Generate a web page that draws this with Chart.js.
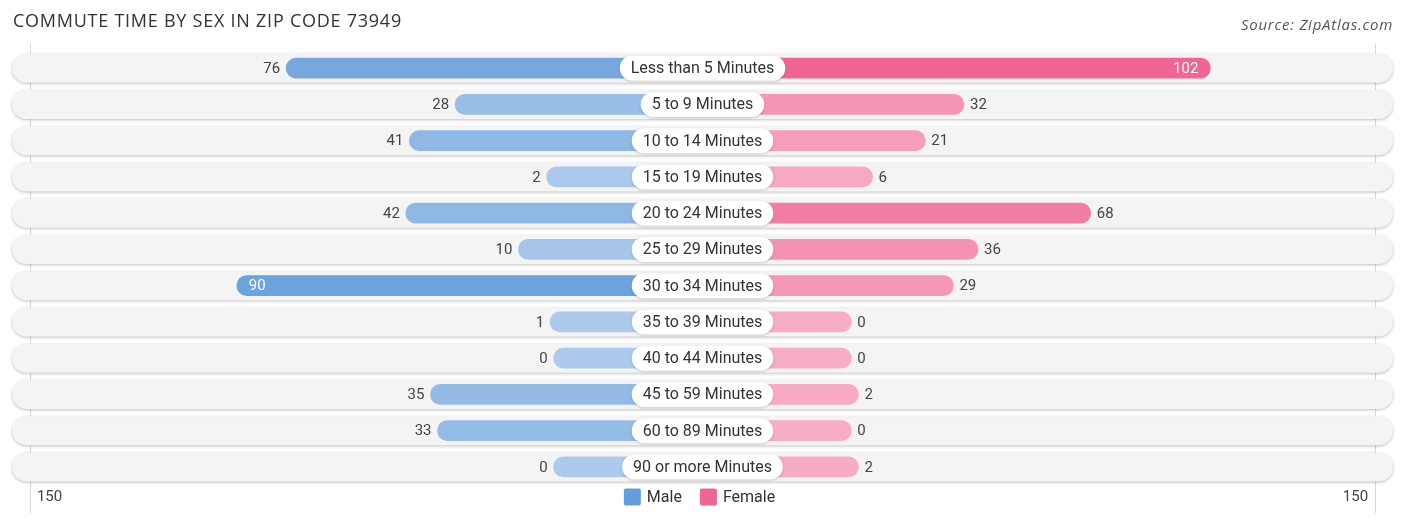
<!DOCTYPE html>
<html>
<head>
<meta charset="utf-8">
<script src="https://cdn.jsdelivr.net/npm/chart.js@4.4.0/dist/chart.umd.min.js"></script>
<style>
  body { margin: 0; background: #fff; }
  .wrap { position: relative; width: 1406px; height: 523px; }
  .title { position: absolute; left: 13px; top: 8px; font: 18px "Open Sans", sans-serif; color: #333; letter-spacing: 0.75px; }
  .source { position: absolute; right: 13px; top: 14px; font: italic 15px "Open Sans", sans-serif; color: #555; letter-spacing: 0.75px; }
  canvas { position: absolute; left: 0; top: 0; }
</style>
</head>
<body>
<div class="wrap">
  <canvas id="chart1" width="1406" height="523"></canvas>
  <div class="title">COMMUTE TIME BY SEX IN ZIP CODE 73949</div>
  <div class="source">Source: ZipAtlas.com</div>
</div>
<script>
var categories = ['Less than 5 Minutes', '5 to 9 Minutes', '10 to 14 Minutes', '15 to 19 Minutes',
    '20 to 24 Minutes', '25 to 29 Minutes', '30 to 34 Minutes', '35 to 39 Minutes',
    '40 to 44 Minutes', '45 to 59 Minutes', '60 to 89 Minutes', '90 or more Minutes'];
var male = [76, 28, 41, 2, 42, 10, 90, 1, 0, 35, 33, 0];
var female = [102, 32, 21, 6, 68, 36, 29, 0, 0, 2, 0, 2];
var axisMax = 150;

// bars start under the centre label, so each one gets a fixed stub plus its scaled value
var stub = 33.2;
var slope = 0.785;
var maxVal = Math.max.apply(null, male.concat(female));

function mix(a, b, t) {
    return 'rgb(' + a.map(function(c, i) { return Math.round(c + (b[i] - c) * t); }).join(',') + ')';
}
var maleLight = [172, 202, 236], maleDark = [100, 157, 219];
var femaleLight = [247, 172, 199], femaleDark = [240, 101, 146];

function barColor(light, dark, values) {
    return function(ctx) {
        if (ctx.type !== 'data') return mix(light, dark, 1);
        return mix(light, dark, values[ctx.dataIndex] / maxVal);
    };
}

var rowPlugin = {
    id: 'rows',
    beforeDatasetsDraw: function(chart) {
        var c = chart.ctx, area = chart.chartArea, y = chart.scales.y, x = chart.scales.x;
        c.save();
        // grid lines at +-150
        c.strokeStyle = '#d8d8d8';
        c.lineWidth = 1;
        [-axisMax, axisMax].forEach(function(v) {
            var px = Math.round(x.getPixelForValue(v)) + 0.5;
            c.beginPath();
            c.moveTo(px, area.top - 6);
            c.lineTo(px, area.bottom + 28);
            c.stroke();
        });
        categories.forEach(function(cat, i) {
            var cy = y.getPixelForValue(i);
            c.save();
            c.shadowColor = 'rgba(0,0,0,0.25)';
            c.shadowBlur = 3;
            c.shadowOffsetY = 1;
            c.fillStyle = '#f4f4f4';
            c.beginPath();
            c.roundRect(area.left, cy - 14.5, area.right - area.left, 29, 14.5);
            c.fill();
            c.restore();
        });
        c.restore();
    },
    afterDatasetsDraw: function(chart) {
        var c = chart.ctx, y = chart.scales.y, x = chart.scales.x, area = chart.chartArea;
        var cx = x.getPixelForValue(0);
        c.save();
        c.textBaseline = 'middle';
        categories.forEach(function(cat, i) {
            var cy = y.getPixelForValue(i);
            // centre label
            c.font = '16px Roboto';
            var w = c.measureText(cat).width + 22;
            c.save();
            c.shadowColor = 'rgba(0,0,0,0.18)';
            c.shadowBlur = 3;
            c.shadowOffsetY = 1;
            c.fillStyle = '#fff';
            c.beginPath();
            c.roundRect(cx - w / 2, cy - 12.5, w, 25, 12.5);
            c.fill();
            c.restore();
            c.fillStyle = '#333';
            c.textAlign = 'center';
            c.fillText(cat, cx, cy + 1);

            // value labels
            c.font = '15px Roboto';
            var m = male[i], f = female[i];
            var mx = x.getPixelForValue(-(stub + slope * m));
            if (m / maxVal > 0.8) {
                c.fillStyle = '#fff';
                c.textAlign = 'left';
                c.fillText(m, mx + 12, cy + 1);
            } else {
                c.fillStyle = '#444';
                c.textAlign = 'right';
                c.fillText(m, mx - 6, cy + 1);
            }
            var fx = x.getPixelForValue(stub + slope * f);
            if (f / maxVal > 0.8) {
                c.fillStyle = '#fff';
                c.textAlign = 'right';
                c.fillText(f, fx - 12, cy + 1);
            } else {
                c.fillStyle = '#444';
                c.textAlign = 'left';
                c.fillText(f, fx + 6, cy + 1);
            }
        });
        var ly = area.bottom + 12;
        // axis end labels
        c.font = '15px Roboto';
        c.fillStyle = '#444';
        c.textAlign = 'left';
        c.fillText(String(axisMax), x.getPixelForValue(-axisMax) + 7, ly);
        c.textAlign = 'right';
        c.fillText(String(axisMax), x.getPixelForValue(axisMax) - 7, ly);

        // legend
        c.font = '16px Roboto';
        var items = chart.data.datasets.map(function(ds, i) {
            return { text: ds.label, color: i === 0 ? mix(maleLight, maleDark, 1) : mix(femaleLight, femaleDark, 1) };
        });
        var total = 0;
        items.forEach(function(it, i) {
            it.w = 17 + 6 + c.measureText(it.text).width;
            total += it.w + (i ? 18 : 0);
        });
        var lx = cx - 3 - total / 2;
        c.textAlign = 'left';
        items.forEach(function(it) {
            c.fillStyle = it.color;
            c.beginPath();
            c.roundRect(lx, ly - 8.5, 17, 17, 2);
            c.fill();
            c.fillStyle = '#333';
            c.fillText(it.text, lx + 23, ly + 1);
            lx += it.w + 18;
        });
        c.restore();
    }
};

// chart1
var ctx = document.getElementById('chart1').getContext('2d');
var myChart = new Chart(ctx, {
    type: 'bar',
    data: {
        labels: categories,
        datasets: [{
            label: 'Male',
            data: male.map(function(v) { return [-(stub + slope * v), 0]; }),
            backgroundColor: barColor(maleLight, maleDark, male),
            borderRadius: 10,
            borderSkipped: false,
            barThickness: 20,
            grouped: false
        },
        {
            label: 'Female',
            data: female.map(function(v) { return [0, stub + slope * v]; }),
            backgroundColor: barColor(femaleLight, femaleDark, female),
            borderRadius: 10,
            borderSkipped: false,
            barThickness: 20,
            grouped: false
        }]
    },
    options: {
        responsive: false,
        animation: false,
        indexAxis: 'y',
        layout: {
            padding: { top: 50, left: 12, right: 13, bottom: 38 }
        },
        plugins: {
            legend: { display: false },
            tooltip: { enabled: false }
        },
        scales: {
            x: {
                display: false,
                min: -154,
                max: 154
            },
            y: {
                display: false
            }
        }
    },
    plugins: [rowPlugin]
});
</script>
</body>
</html>
